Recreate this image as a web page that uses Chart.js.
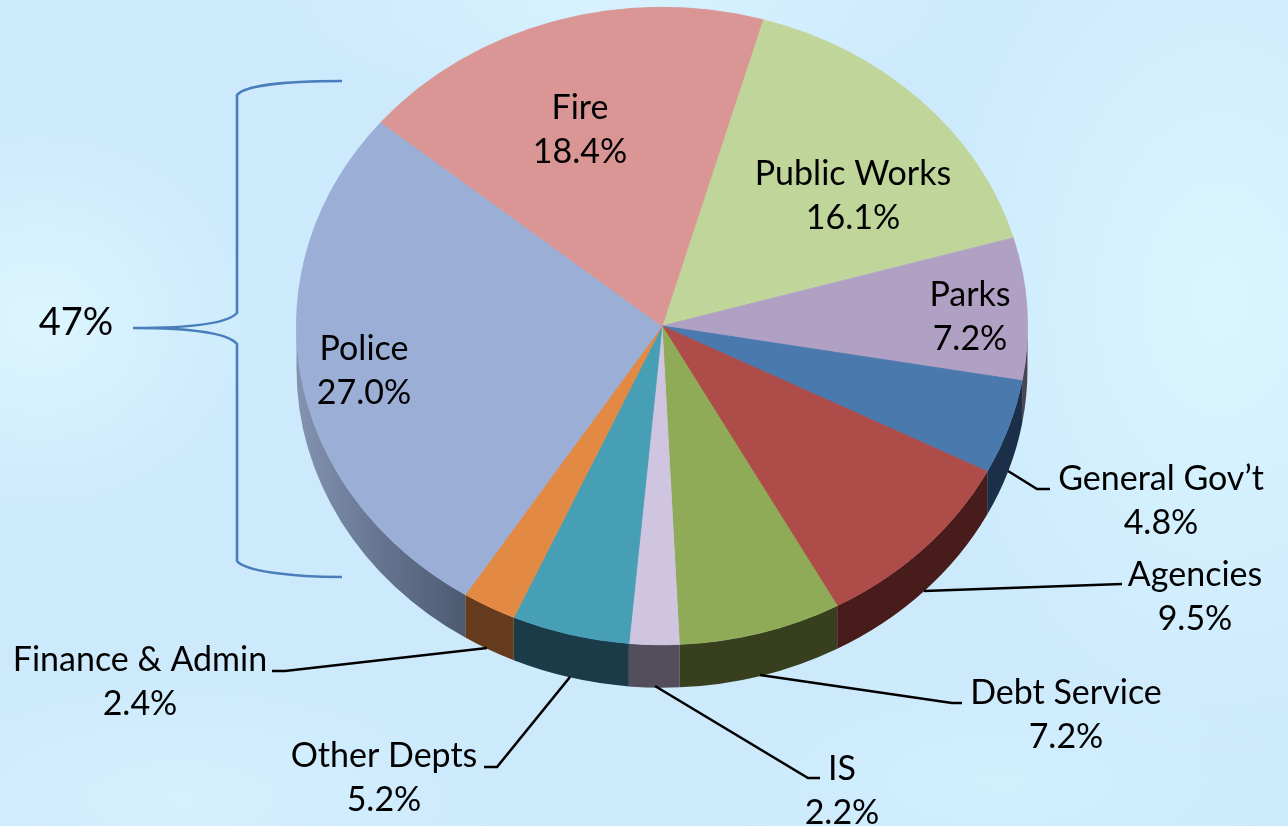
<!DOCTYPE html>
<html>
<head>
<meta charset="utf-8">
<title>General Fund by Department</title>
<script src="https://cdn.jsdelivr.net/npm/chart.js@4"></script>
<style>
  html, body { margin: 0; padding: 0; width: 1288px; height: 826px; overflow: hidden; }
  body {
    background:
      radial-gradient(ellipse 220px 200px at 40px 320px, rgba(222,248,255,.85), rgba(222,248,255,0)),
      radial-gradient(ellipse 360px 120px at 620px 0px, rgba(220,246,255,.7), rgba(220,246,255,0)),
      radial-gradient(ellipse 300px 460px at 1220px 300px, rgba(218,246,255,.95), rgba(218,246,255,0)),
      radial-gradient(ellipse 320px 130px at 180px 800px, rgba(216,244,255,.7), rgba(216,244,255,0)),
      radial-gradient(ellipse 280px 110px at 1000px 780px, rgba(214,243,255,.6), rgba(214,243,255,0)),
      #cdeafd;
  }
  canvas { display: block; }
</style>
</head>
<body>
<canvas id="budgetPie" width="1288" height="826"></canvas>
<script>
const departments = ['Public Works', 'Parks', 'General Gov\u2019t', 'Agencies', 'Debt Service', 'IS', 'Other Depts', 'Finance & Admin', 'Police', 'Fire'];
const shares = [16.1, 7.2, 4.8, 9.5, 7.2, 2.2, 5.2, 2.4, 27.0, 18.4];
const faceColours = ['#c0d59a', '#b0a0c4', '#4a79ae', '#ae4c4a', '#8fab57', '#cfc5e0', '#479fb6', '#e28a44', '#9aaed6', '#d99694'];
const wallColours = ['#4a5238', '#4b4453', '#1c2f48', '#471c1a', '#373f1e', '#544d5c', '#1c3b48', '#663a1c', null, '#5a3f3e'];
const groupLabel = '47%';

// pie geometry on the page
const CENTER_X = 662, CENTER_Y = 326, RADIUS = 366, SQUASH = 0.872, DEPTH = 43;
const START_DEG = 16;
const FONT = '34px Lato, "Open Sans", sans-serif';

// text anchors, same order as departments
const labelAt = [[853, 174], [970, 295], [1161, 479], [1195, 575], [1066, 693], [842, 769], [384, 756], [140, 660], [364, 349], [580, 108]];
const LINE_GAP = 44;

// elbow lines from the rim out to the outside labels
const leaders = [
  [[1008, 471], [1037, 489], [1050, 489]],
  [[924, 591], [1122, 584]],
  [[760, 675], [952, 703], [962, 703]],
  [[655, 686], [808, 778], [820, 778]],
  [[570, 677], [497, 767], [484, 767]],
  [[487, 648], [285, 671], [272, 671]]
];

function frontRange(a0, a1) {
  // part of the slice that faces the viewer (canvas angles 0..PI)
  const TAU = Math.PI * 2;
  for (const k of [-TAU, 0, TAU]) {
    const s = Math.max(a0 + k, 0), e = Math.min(a1 + k, Math.PI);
    if (e > s) return [s, e];
  }
  return null;
}

const pieDepth = {
  id: 'pieDepth',
  beforeDatasetsDraw(chart) {
    const ctx = chart.ctx;
    const arcs = chart.getDatasetMeta(0).data;
    arcs.forEach((arc, i) => {
      const p = arc.getProps(['startAngle', 'endAngle', 'outerRadius']);
      const range = frontRange(p.startAngle, p.endAngle);
      if (!range) return;
      const ry = p.outerRadius * SQUASH;
      let fill = wallColours[i];
      if (!fill) {
        fill = ctx.createLinearGradient(CENTER_X - RADIUS, 0, CENTER_X - RADIUS + 175, 0);
        fill.addColorStop(0, '#8494b0');
        fill.addColorStop(0.5, '#65738f');
        fill.addColorStop(1, '#4b596f');
      }
      ctx.save();
      ctx.fillStyle = fill;
      ctx.beginPath();
      ctx.ellipse(CENTER_X, CENTER_Y, p.outerRadius, ry, 0, range[0], range[1]);
      ctx.ellipse(CENTER_X, CENTER_Y + DEPTH, p.outerRadius, ry, 0, range[1], range[0], true);
      ctx.closePath();
      ctx.fill();
      ctx.restore();
    });
    // flatten the round pie into the tilted top face
    ctx.save();
    ctx.translate(0, CENTER_Y);
    ctx.scale(1, SQUASH);
    ctx.translate(0, -arcs[0].y);
  },
  afterDatasetsDraw(chart) {
    chart.ctx.restore();
  },
  afterDraw(chart) {
    const ctx = chart.ctx;
    ctx.save();

    ctx.strokeStyle = '#000';
    ctx.lineWidth = 2.6;
    leaders.forEach(pts => {
      ctx.beginPath();
      pts.forEach((pt, i) => i ? ctx.lineTo(pt[0], pt[1]) : ctx.moveTo(pt[0], pt[1]));
      ctx.stroke();
    });

    // brace around Police and Fire
    ctx.strokeStyle = '#4a7ebb';
    ctx.lineWidth = 2.6;
    ctx.beginPath();
    ctx.moveTo(342, 81);
    ctx.bezierCurveTo(290, 81, 245, 85, 237, 95);
    ctx.lineTo(237, 313);
    ctx.bezierCurveTo(228, 323, 190, 328, 133, 328);
    ctx.bezierCurveTo(190, 328, 228, 333, 237, 344);
    ctx.lineTo(237, 561);
    ctx.bezierCurveTo(245, 571, 290, 577, 342, 577);
    ctx.stroke();

    ctx.fillStyle = '#000';
    ctx.font = FONT;
    ctx.textAlign = 'center';
    ctx.textBaseline = 'middle';
    departments.forEach((name, i) => {
      ctx.fillText(name, labelAt[i][0], labelAt[i][1]);
      ctx.fillText(shares[i].toFixed(1) + '%', labelAt[i][0], labelAt[i][1] + LINE_GAP);
    });
    ctx.font = '38px Lato, "Open Sans", sans-serif';
    ctx.fillText(groupLabel, 76, 323);
    ctx.restore();
  }
};

new Chart(document.getElementById('budgetPie'), {
  type: 'pie',
  plugins: [pieDepth],
  data: {
    labels: departments,
    datasets: [{
      data: shares,
      backgroundColor: faceColours,
      borderColor: faceColours,
      borderWidth: 1,
      clip: false
    }]
  },
  options: {
    responsive: false,
    animation: false,
    rotation: START_DEG,
    // leaves a square of RADIUS * 2 for the pie, horizontally in place
    layout: { padding: { left: CENTER_X - RADIUS, right: 1288 - CENTER_X - RADIUS, top: 47, bottom: 47 } },
    plugins: { legend: { display: false }, tooltip: { enabled: false } }
  }
});
</script>
</body>
</html>
